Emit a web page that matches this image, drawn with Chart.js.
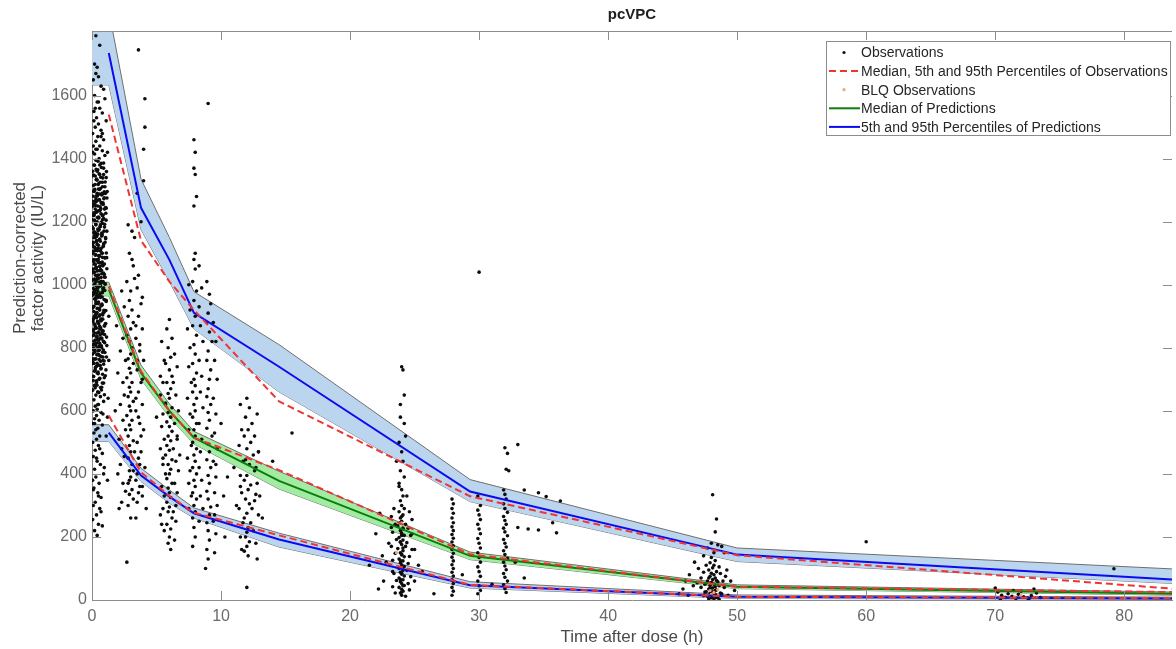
<!DOCTYPE html>
<html>
<head>
<meta charset="utf-8">
<title>pcVPC</title>
<script src="https://cdn.jsdelivr.net/npm/chart.js@4.4.1/dist/chart.umd.min.js"></script>
<style>
  html, body { margin: 0; padding: 0; background: #fff; overflow: hidden; }
  #wrap { width: 1176px; height: 649px; position: relative; }
</style>
</head>
<body>
<div id="wrap"><canvas id="vpc"></canvas></div>
<script>
// bin vertices (h): bands start at 0, percentile lines start at first bin
const bandTimes = [0, 1.3, 3.8, 6.0, 7.9, 14.5, 29.3, 50, 84];
const lineTimes = [1.3, 3.8, 6.0, 7.9, 14.5, 29.3, 50, 84];

// 95th percentile
const p95Upper = [1870, 1870, 1335, 1150, 978, 810, 382, 165, 98];
const p95Lower = [1634, 1634, 1175, 1010, 860, 660, 312, 122, 52];
const p95Pred = [1735, 1244, 1079, 911, 740, 344, 144, 64];
const p95Obs = [1540, 1140, 1010, 920, 630, 329, 142, 35];

// median
const p50Upper = [1008, 1008, 745, 622, 535, 408, 152, 48, 25];
const p50Lower = [965, 965, 700, 580, 495, 352, 128, 36, 15];
const p50Pred = [985, 720, 600, 515, 378, 140, 42, 20];
const p50Obs = [995, 725, 600, 515, 412, 145, 42, 25];

// 5th percentile
const p05Upper = [556, 556, 418, 349, 292, 212, 58, 16, 9];
const p05Lower = [503, 503, 376, 307, 260, 168, 38, 5, 2];
const p05Pred = [531, 395, 328, 275, 192, 47, 10, 5];
const p05Obs = [585, 405, 330, 277, 205, 48, 10, 6];

const xTickValues = [0, 10, 20, 30, 40, 50, 60, 70, 80];
const yTickValues = [0, 200, 400, 600, 800, 1000, 1200, 1400, 1600];
const xMax = 83.7;
const yMax = 1805;

// observations [time, prediction-corrected activity]
const obs0h = [
  [0.3,1790],[0.6,1760],[0.2,1700],[0.4,1690],[0.3,1670],[0.5,1660],[0.1,1650],[0.7,1630],[0.9,1620],[0.2,1600],
  [1.0,1590],[0.4,1580],[0.6,1560],[0.15,1550],[0.8,1545],[0.35,1530],[1.1,1520],[0.5,1510],[0.25,1500],[0.7,1490],
  [0.05,1480],[0.45,1470],[0.9,1460],[0.3,1455],[0.6,1440],[0.1,1440],[0.4,1430],[0.8,1425],[0.2,1415],[1.0,1410],
  [0.55,1400],[0.3,1395],[0.7,1385],[0.15,1380],[0.9,1370],[0.45,1365],[0.05,1360],[0.6,1350],[0.25,1345],[1.1,1340],
  [0.35,1335],[0.8,1325],[0.5,1320],[0.1,1315],[0.65,1305],[0.2,1300],[0.95,1295],[0.4,1290],[0.75,1285],[0.3,1275],
  [0.55,1270],[0.05,1265],[0.85,1260],[0.15,1255],[0.45,1250],[1.05,1245],[0.25,1240],[0.6,1235],[0.35,1230],[0.7,1225],
  [0.1,1220],[0.5,1215],[0.9,1210],[0.2,1205],[0.4,1200],[0.8,1195],[0.3,1190],[0.65,1185],[0.05,1180],[0.55,1175],
  [1.15,1170],[0.15,1165],[0.45,1160],[0.75,1155],[0.25,1150],[0.6,1145],[0.35,1140],[0.1,1135],[0.9,1130],[0.5,1125],
  [0.2,1120],[0.7,1115],[0.4,1110],[0.05,1105],[0.8,1100],[0.3,1095],[0.55,1090],[1.0,1085],[0.15,1080],[0.45,1075],
  [0.65,1070],[0.25,1065],[0.85,1060],[0.35,1055],[0.1,1050],[0.6,1045],[0.2,1040],[0.75,1035],[0.4,1030],[0.95,1025],
  [0.5,1020],[0.05,1015],[0.3,1010],[0.7,1005],[0.15,1000],[0.55,995],[0.9,990],[0.25,985],[0.45,980],[0.8,975],
  [0.1,970],[0.35,965],[0.65,960],[0.2,955],[1.1,950],[0.5,945],[0.3,940],[0.75,935],[0.05,930],[0.4,925],
  [0.6,920],[0.15,915],[0.85,910],[0.25,905],[0.55,900],[0.35,895],[0.1,890],[0.7,885],[0.45,880],[0.2,875],
  [0.95,870],[0.3,865],[0.6,860],[0.05,855],[0.5,850],[0.8,845],[0.15,840],[0.4,835],[0.65,830],[0.25,825],
  [0.9,820],[0.35,815],[0.1,810],[0.55,805],[0.75,800],[0.2,795],[0.45,790],[0.05,780],[0.6,775],[0.3,765],
  [0.85,760],[0.15,750],[0.5,745],[0.7,735],[0.25,730],[0.4,720],[0.1,710],[0.95,705],[0.55,700],[0.35,690],
  [0.2,680],[0.75,675],[0.05,665],[0.45,660],[0.3,650],[0.65,645],[0.15,635],[0.9,630],[0.5,620],[0.25,615],
  [0.4,605],[0.1,600],[0.7,595],[0.35,585],[1.2,580],[0.2,575],[0.55,570],[0.05,560],[0.8,555],[0.45,545],
  [0.3,540],[0.15,530],[0.6,520],[0.35,510],[0.05,500],[0.5,490],[0.25,475],[0.8,465],[0.1,455],[0.4,440],
  [0.65,430],[0.2,415],[0.9,400],[0.3,390],[0.05,380],[0.55,370],[1.2,380],[0.15,355],[0.45,340],[0.7,325],
  [0.25,310],[0.1,300],[0.6,290],[0.35,270],[0.05,255],[0.5,240],[0.8,235],[0.2,220],[0.4,205]
];
const obs0hb = [
  [0.12,1348],[0.68,1341],[0.33,1333],[1.02,1326],[0.47,1318],[0.81,1311],[0.21,1303],[1.18,1296],[0.56,1288],[0.09,1281],
  [0.92,1273],[0.38,1266],[0.74,1258],[0.27,1251],[1.1,1243],[0.6,1236],[0.15,1228],[0.86,1221],[0.42,1213],[0.03,1206],
  [0.71,1198],[0.3,1191],[0.97,1183],[0.52,1176],[0.18,1168],[0.79,1161],[0.36,1153],[1.06,1146],[0.64,1138],[0.07,1131],
  [0.89,1123],[0.44,1116],[0.24,1108],[0.76,1101],[0.58,1093],[1.14,1086],[0.13,1078],[0.49,1071],[0.83,1063],[0.31,1056],
  [0.66,1048],[0.04,1041],[0.95,1033],[0.4,1026],[0.2,1018],[0.72,1011],[1.0,1003],[0.54,996],[0.11,988],[0.85,981],
  [0.35,973],[0.62,966],[0.26,958],[1.08,951],[0.46,943],[0.78,936],[0.08,928],[0.57,921],[0.93,913],[0.32,906],
  [0.17,898],[0.7,891],[0.43,883],[1.04,876],[0.6,868],[0.22,861],[0.87,853],[0.37,846],[0.02,838],[0.75,831],
  [0.5,823],[0.98,816],[0.28,808],[0.65,801],[0.14,793],[0.82,786],[0.41,778],[1.12,771],[0.55,763],[0.06,756],
  [0.9,748],[0.34,741],[0.69,733],[0.19,726],[0.48,718],[1.03,711],[0.61,703],[0.1,696],[0.8,688],[0.39,681],
  [0.25,673],[0.73,666],[0.53,658],[0.96,651],
  [0.5,1580],[0.15,1520],[0.8,1480],[0.3,1430],[1.2,1420],[0.6,1380],[0.05,1420],[0.9,1350],[0.4,1360],[0.7,1470],
  [0.25,1560],[1.05,1290],[0.45,620],[0.85,590],[0.2,560],[1.1,520],[0.6,480],[0.35,450],[0.95,420],[0.1,350],
  [0.7,280],[0.5,330],[1.25,640],[1.3,760],[1.3,900]
];
const obs0hc = [
  [0.58,1302],[0.16,1296],[0.88,1289],[0.43,1282],[1.16,1275],[0.29,1268],[0.71,1261],[0.05,1254],[0.63,1247],[0.97,1240],
  [0.37,1233],[0.19,1226],[0.82,1219],[0.51,1212],[1.09,1205],[0.24,1198],[0.67,1191],[0.01,1184],[0.45,1177],[0.93,1170],
  [0.31,1163],[0.77,1156],[0.14,1149],[0.59,1142],[1.01,1135],[0.4,1128],[0.86,1121],[0.23,1114],[0.66,1107],[0.08,1100],
  [0.53,1093],[0.99,1086],[0.34,1079],[0.79,1072],[0.18,1065],[0.61,1058],[1.15,1051],[0.42,1044],[0.89,1037],[0.27,1030],
  [0.7,1023],[0.11,1016],[0.55,1009],[1.03,1002],[0.36,995],[0.84,988],[0.2,981],[0.64,974],[0.03,967],[0.48,960],
  [0.94,953],[0.3,946],[0.76,939],[0.15,932],[0.57,925],[1.07,918],[0.39,911],[0.83,904],[0.25,897],[0.69,890],
  [0.07,883],[0.52,876],[0.98,869],[0.33,862],[0.78,855],[0.17,848],[0.62,841],[1.13,834],[0.44,827],[0.9,820],
  [0.28,813],[0.73,806],[0.12,799],[0.56,792],[1.0,785],[0.38,778],[0.85,771],[0.22,764],[0.67,757],[0.04,750]
];
const obs0hd = [
  [0.46,1392],[0.9,1386],[0.19,1379],[0.73,1372],[0.32,1366],[1.12,1359],[0.55,1352],[0.06,1346],[0.84,1339],[0.4,1332],
  [0.63,1325],[0.23,1318],[1.0,1311],[0.5,1304],[0.13,1297],[0.78,1290],[0.36,1283],[0.95,1276],[0.59,1269],[0.27,1262],
  [0.87,1255],[0.02,1248],[0.69,1241],[0.44,1234],[1.07,1227],[0.16,1220],[0.53,1213],[0.81,1206],[0.29,1199],[0.98,1192],
  [0.62,1185],[0.1,1178],[0.47,1171],[0.75,1164],[0.21,1157],[1.05,1150],[0.57,1143],[0.34,1136],[0.91,1129],[0.05,1122],
  [0.67,1115],[0.42,1108],[1.11,1101],[0.26,1094],[0.8,1087],[0.49,1080],[0.14,1073],[0.96,1066],[0.6,1059],[0.3,1052],
  [0.74,1045],[0.09,1038],[0.52,1031],[1.02,1024],[0.37,1017],[0.86,1010],[0.22,1003],[0.65,996],[0.43,989],[0.99,982],
  [0.12,975],[0.58,968],[0.79,961],[0.28,954],[1.1,947],[0.48,940],[0.7,933],[0.04,926],[0.92,919],[0.35,912],
  [0.61,905],[0.18,898],[0.83,891],[0.45,884],[1.06,877],[0.24,870],[0.68,863],[0.08,856],[0.54,849],[0.97,842],
  [0.33,835],[0.76,828],[0.15,821],[0.6,814],[1.15,807],[0.41,800],[0.88,793],[0.2,786],[0.51,779],[0.71,772],
  [0.06,765],[0.94,758],[0.39,751],[0.64,744],[0.26,737],[1.08,730],[0.47,723],[0.82,716],[0.13,709],[0.57,702],
  [0.35,695],[0.9,688],[0.21,681],[0.66,674],[0.03,667],[0.44,660]
];
const obs3h = [
  [2.8,1190],[3.1,1170],[2.9,1100],[3.2,1060],[2.7,1010],[3.0,980],[2.9,950],[3.1,920],[2.8,900],[3.2,880],
  [3.0,860],[2.7,840],[2.9,820],[3.1,800],[3.0,780],[2.8,765],[3.2,750],[2.9,735],[3.0,720],[2.7,705],
  [3.1,690],[2.9,675],[3.0,660],[2.8,645],[3.2,630],[2.9,615],[3.0,600],[2.7,585],[3.1,570],[2.9,555],
  [3.0,540],[2.8,520],[3.2,505],[2.9,490],[3.0,470],[2.8,450],[3.1,430],[2.9,410],[3.0,390],[2.8,370],
  [3.1,350],[2.9,335],[3.2,320],[2.8,300],[2.7,120],[3.0,260],
  [3.6,1745],[4.1,1590],[4.1,1500],[4.0,1430],[4.0,1330],[3.5,1290],[3.8,1200],[3.3,1150],[3.6,1030],[3.9,960],
  [3.4,870],[3.7,810],[3.5,760],[3.9,700],[3.4,640],[3.6,580],[3.8,520],[3.3,470],[3.7,430],[3.5,400],
  [3.9,360],[3.6,340],[3.2,410],[2.9,380],[3.4,260],
  [2.3,980],[2.5,930],[1.9,870],[2.4,830],[2.2,790],[2.6,760],[2.0,720],[2.4,690],[2.5,650],[2.2,620],
  [1.8,600],[2.4,570],[2.6,540],[2.1,510],[2.3,480],[2.5,455],[2.2,430],[2.0,400],[2.4,370],[2.6,345],
  [2.3,310],[2.1,290],[3.5,990],[3.8,940],[3.6,900],[3.9,860],[3.4,830],[3.7,790],[4.0,760],[3.5,730],
  [3.8,690],[3.6,660],[3.9,620],[3.4,600],[3.7,560],[4.0,540],[3.5,500],[3.8,470],[3.6,450],[4.1,420],
  [3.4,380],[3.7,360],[3.9,330],[3.5,310],[4.2,290],[3.3,1020],[3.1,1080]
];
const obs6h = [
  [6.0,890],[5.8,860],[6.2,830],[5.9,800],[6.1,770],[5.7,750],[6.0,730],[6.2,710],[5.8,690],[6.1,670],
  [5.9,655],[6.0,640],[5.7,625],[6.2,610],[5.9,595],[6.1,580],[5.8,565],[6.0,550],[6.2,535],[5.9,520],
  [6.1,505],[5.8,490],[6.0,475],[5.7,460],[6.2,445],[5.9,430],[6.1,415],[6.0,400],[5.8,385],[6.2,370],
  [5.9,355],[6.0,340],[6.1,325],[5.8,310],[6.0,295],[5.9,280],[6.2,260],[5.8,240],[6.1,225],[6.0,200],
  [5.9,180],[6.1,160],[5.3,710],[5.0,580],[5.5,450],[6.5,300],[5.4,240],[6.6,520],
  [5.4,820],[5.6,760],[5.5,690],[5.3,650],[5.7,620],[5.5,590],[5.4,550],[5.6,510],[5.3,480],[5.5,430],
  [5.7,400],[5.4,360],[5.6,330],[5.5,290],[5.3,270],[5.6,220],[6.4,780],[6.6,740],[6.3,690],[6.5,650],
  [6.7,600],[6.4,560],[6.6,510],[6.3,480],[6.5,440],[6.7,410],[6.4,370],[6.6,340],[6.3,280],[6.5,250],
  [6.4,190],[6.8,460]
];
const obs8h = [
  [7.9,1460],[8.0,1420],[7.9,1370],[8.0,1350],[8.1,1280],[7.9,1250],[8.0,1100],[7.9,1080],[8.0,1050],[7.8,1010],
  [8.1,980],[7.9,950],[8.0,900],[7.8,870],[8.1,840],[7.9,810],[8.0,780],[7.8,750],[8.1,720],[7.9,700],
  [8.0,680],[7.8,660],[8.1,640],[7.9,620],[8.0,600],[7.8,580],[8.1,560],[7.9,540],[8.0,520],[7.8,500],
  [8.1,480],[7.9,460],[8.0,440],[7.8,420],[8.1,400],[7.9,380],[8.0,360],[7.8,340],[8.1,320],[7.9,300],
  [8.0,280],[7.8,260],[7.9,230],[8.0,200],[7.8,170],
  [7.5,1000],[7.6,920],[7.4,860],[7.6,800],[7.5,740],[7.7,690],[7.4,640],[7.6,590],[7.5,540],[7.7,490],
  [7.4,450],[7.6,410],[7.5,370],[7.7,330],[7.5,290],[8.3,1060],[8.5,990],[8.3,930],[8.4,870],[8.6,820],
  [8.3,760],[8.5,710],[8.4,660],[8.6,610],[8.3,560],[8.5,510],[8.4,470],[8.3,420],[8.5,380],[8.4,330],
  [8.6,290],[8.3,250]
];
const obs9h = [
  [9.0,1575],[8.9,1010],[9.1,970],[9.2,940],[9.0,910],[8.9,880],[9.1,850],[9.3,820],[9.0,790],[8.9,760],
  [9.2,730],[9.1,700],[9.0,670],[8.9,645],[9.2,620],[9.0,595],[9.1,570],[8.9,545],[9.3,520],[9.0,495],
  [9.1,470],[8.9,445],[9.2,420],[9.0,395],[9.1,370],[8.9,345],[9.0,320],[9.2,295],[9.1,270],[8.9,245],
  [9.0,220],[9.1,190],[8.9,160],[9.0,130],[8.8,100],[10.0,560],[9.6,430],[10.5,390],[10.2,330],[10.3,200],
  [9.5,270],[9.4,880],[9.6,820],[9.5,760],[9.7,700],[9.4,640],[9.6,590],[9.5,530],[9.7,480],[9.4,440],
  [9.6,390],[9.5,340],[9.7,300],[9.4,250],[9.6,210],[9.5,150]
];
const obs12h = [
  [12.0,640],[12.2,610],[11.9,580],[12.4,560],[12.1,540],[11.8,520],[12.3,500],[12.0,480],[12.5,460],[11.9,445],
  [12.2,430],[12.6,410],[12.0,395],[11.8,380],[12.3,365],[12.1,350],[12.7,335],[11.9,320],[12.2,305],[12.4,290],
  [12.0,275],[11.8,260],[12.3,245],[12.1,230],[12.0,215],[11.9,200],[12.2,185],[12.0,170],[11.8,155],[12.1,140],
  [12.0,40],[13.0,330],[13.2,260],[12.9,470],[11.5,360],[11.2,300],[15.5,530],[14.0,440],[11.0,420],
  [11.5,620],[12.8,590],[11.6,540],[12.6,520],[11.4,490],[12.9,470],[11.7,440],[12.7,420],[11.5,395],[12.8,370],
  [11.6,340],[12.6,315],[11.4,290],[12.9,270],[11.7,245],[12.5,220],[11.5,200],[12.7,180],[11.6,160],[12.8,130]
];
const obs24h = [
  [24.0,740],[24.1,730],[23.9,620],[24.2,560],[23.8,500],[24.0,470],[24.1,440],[23.9,410],[24.2,390],[23.8,370],
  [24.0,350],[24.1,330],[23.9,315],[24.0,300],[24.2,290],[23.8,280],[24.1,270],[23.9,260],[24.0,250],[24.3,240],
  [23.7,235],[24.1,228],[23.9,220],[24.0,212],[24.2,205],[23.8,198],[24.1,190],[23.9,183],[24.0,176],[24.3,170],
  [23.7,163],[24.1,156],[23.9,150],[24.0,143],[24.2,137],[23.8,130],[24.1,124],[23.9,118],[24.0,112],[24.2,106],
  [23.8,100],[24.1,94],[23.9,88],[24.0,82],[24.2,76],[23.8,70],[24.1,64],[23.9,58],[24.0,52],[24.2,46],
  [23.8,40],[24.0,34],[24.1,28],[23.9,22],[24.0,15],[22.2,35],[22.5,140],[22.8,120],[23.0,180],[23.3,90],
  [22.0,210],[25.0,160],[25.3,110],[25.6,90],[24.8,210],[25.0,60],[22.6,60],[23.2,230],[21.5,110],[26.5,20],
  [22.3,275],
  [23.4,290],[24.6,280],[23.2,265],[24.8,255],[23.5,240],[24.5,228],[23.3,215],[24.7,205],[23.6,192],[24.4,182],
  [23.2,170],[24.8,160],[23.5,148],[24.6,138],[23.3,126],[24.5,116],[23.7,104],[24.4,94],[23.4,84],[24.7,74],
  [23.6,62],[24.5,52],[23.3,42],[24.6,32],[23.5,22],[24.3,12],[23.8,360],[24.4,330],[23.6,440],[24.3,520],
  [23.9,580],[24.2,650],[24.0,265],[23.9,245],[24.1,225],[24.0,205],[23.9,185],[24.1,165],[24.0,145],[23.9,125],
  [24.1,105],[24.0,85],[23.9,65],[24.1,45],[24.0,25]
];
const obs28h = [
  [27.9,320],[28.0,305],[27.9,290],[28.0,275],[27.9,260],[28.0,245],[27.9,232],[28.0,220],[27.9,208],[28.0,196],
  [27.9,184],[28.0,172],[27.9,160],[28.0,148],[27.9,136],[28.0,124],[27.9,112],[28.0,100],[27.9,88],[28.0,76],
  [27.9,64],[28.0,52],[27.9,40],[28.0,28],[27.9,15],[28.7,80]
];
const obs30h = [
  [30.0,1040],[29.9,330],[30.1,300],[29.9,285],[30.0,270],[30.1,255],[29.9,240],[30.0,225],[30.1,210],[29.9,195],
  [30.0,180],[30.1,165],[29.9,150],[30.0,135],[30.1,120],[29.9,105],[30.0,90],[30.1,75],[29.9,60],[30.0,45],
  [30.1,30],[29.9,20],[31.0,50]
];
const obs32h = [
  [32.0,483],[32.2,465],[32.1,415],[32.3,410],[33.0,493],[31.9,349],[32.0,335],[32.1,320],[31.9,305],[32.0,290],
  [32.2,278],[31.9,265],[32.0,252],[32.1,240],[31.9,228],[32.0,216],[32.2,204],[31.9,192],[32.0,180],[32.1,168],
  [31.9,156],[32.0,144],[32.2,132],[31.9,120],[32.0,108],[32.1,96],[31.9,84],[32.0,72],[32.2,60],[31.9,48],
  [32.0,36],[32.1,24],[33.5,349],[34.6,340],[35.2,328],[36.3,314],[35.7,245],[36.0,213],[34.6,222],[33.0,230],
  [33.8,225],[32.8,120],[33.5,70]
];
const obs48h = [
  [48.1,334],[48.4,257],[48.3,216],[48.0,180],[48.5,175],[48.8,170],[47.7,165],[49.0,150],[47.4,140],[48.2,150],
  [48.0,135],[48.3,125],[47.9,118],[48.2,110],[48.1,102],[47.8,95],[48.4,90],[48.0,85],[48.2,80],[47.9,75],
  [48.3,70],[48.1,65],[47.7,60],[48.5,58],[48.0,55],[48.2,50],[47.9,46],[48.3,42],[48.1,38],[47.8,35],
  [48.4,32],[48.0,28],[48.2,25],[47.9,22],[48.3,18],[48.1,15],[47.7,12],[48.5,10],[48.0,7],[48.2,4],
  [46.3,80],[46.0,60],[46.6,45],[45.8,35],[47.0,100],[47.2,70],[49.2,95],[49.5,60],[49.0,40],[49.8,30],
  [46.7,120],[47.5,25],[48.8,20],[49.3,15],[46.2,15],[45.5,20],
  [47.6,110],[48.6,105],[47.4,88],[48.7,84],[47.8,70],[48.4,62],[47.5,50],[48.6,45],[47.9,38],[48.3,30],
  [47.6,26],[48.7,22],[47.4,14],[48.4,8],[47.8,4],[48.6,2],[48.9,60],[47.2,40],[49.1,75],[46.9,55]
];
const obs72h = [
  [70.0,38],[70.2,25],[70.5,15],[70.8,8],[71.0,20],[71.3,12],[71.6,5],[71.8,18],[72.0,28],[72.2,10],
  [72.5,6],[72.8,14],[73.0,35],[73.2,22],[73.5,8],[71.4,30],[72.6,3],[70.4,2],[60.0,185],[79.2,99]
];
const blqObs = [[23.6,150],[24.0,245],[47.9,30],[48.2,24],[48.5,33],[48.0,18],[71.5,10],[72.0,15]];

const pts = (xs, ys) => xs.map((x, i) => ({ x, y: ys[i] }));
const pairs = (rows) => rows.map(([x, y]) => ({ x, y }));

const observations = pairs([].concat(obs0h, obs0hb, obs0hc, obs0hd, obs3h, obs6h, obs8h, obs9h,
  obs12h, obs24h, obs28h, obs30h, obs32h, obs48h, obs72h));

const BLUE = '#0b0bef';
const GREEN = '#0a7d0a';
const RED = '#ef3434';
const EDGE = '#6e6e6e';
const BAND_BLUE = '#bcd5ee';
const BAND_GREEN = '#a2eba2';
const BLQ = '#f2a47c';
const FONT = "'Liberation Sans', Arial, sans-serif";

function band(upper, lower, color) {
  return [
    { data: pts(bandTimes, upper), fill: '+1', backgroundColor: color, borderColor: EDGE,
      borderWidth: 1, pointRadius: 0, order: 50 },
    { data: pts(bandTimes, lower), fill: false, borderColor: EDGE,
      borderWidth: 1, pointRadius: 0, order: 50 },
  ];
}

function line(values, color, dashed) {
  return {
    data: pts(lineTimes, values), fill: false, borderColor: color, borderWidth: 2,
    borderDash: dashed ? [7, 4] : [], pointRadius: 0, order: dashed ? 10 : 20,
  };
}

// inward ticks, box frame, title, y label and legend, MATLAB style
const frame = {
  id: 'frame',
  afterDraw(chart) {
    const { ctx, chartArea: a, scales: { x, y } } = chart;
    ctx.save();
    ctx.strokeStyle = '#8c8c8c';
    ctx.lineWidth = 1;
    ctx.beginPath();
    ctx.moveTo(a.left, a.top + 0.5);
    ctx.lineTo(a.right, a.top + 0.5);
    x.ticks.forEach(t => {
      const px = Math.round(x.getPixelForValue(t.value)) + 0.5;
      ctx.moveTo(px, a.bottom); ctx.lineTo(px, a.bottom - 9);
      ctx.moveTo(px, a.top); ctx.lineTo(px, a.top + 9);
    });
    y.ticks.forEach(t => {
      const py = Math.round(y.getPixelForValue(t.value)) + 0.5;
      ctx.moveTo(a.left, py); ctx.lineTo(a.left + 9, py);
      ctx.moveTo(a.right, py); ctx.lineTo(a.right - 9, py);
    });
    ctx.stroke();

    // title
    ctx.fillStyle = '#1e1e1e';
    ctx.font = 'bold 15px ' + FONT;
    ctx.textAlign = 'center';
    ctx.textBaseline = 'middle';
    ctx.fillText('pcVPC', (a.left + a.right) / 2, 15);

    // y axis label, two lines
    ctx.fillStyle = '#4a4a4a';
    ctx.font = '17px ' + FONT;
    [['Prediction-corrected', 20], ['factor activity (IU/L)', 38]].forEach(([txt, lx]) => {
      ctx.save();
      ctx.translate(lx, 258);
      ctx.rotate(-Math.PI / 2);
      ctx.fillText(txt, 0, 0);
      ctx.restore();
    });

    // legend box
    const bx = 826.5, by = 41.5, bw = 344, bh = 94;
    ctx.fillStyle = '#fff';
    ctx.fillRect(bx, by, bw, bh);
    ctx.strokeStyle = '#8c8c8c';
    ctx.strokeRect(bx, by, bw, bh);
    const entries = [
      { label: 'Observations', kind: 'dot', color: '#111' },
      { label: 'Median, 5th and 95th Percentiles of Observations', kind: 'dash', color: RED },
      { label: 'BLQ Observations', kind: 'dot', color: BLQ },
      { label: 'Median of Predictions', kind: 'line', color: GREEN },
      { label: '5th and 95th Percentiles of Predictions', kind: 'line', color: BLUE },
    ];
    ctx.font = '14px ' + FONT;
    ctx.textAlign = 'left';
    entries.forEach((e, i) => {
      const ry = 52.5 + i * 18.6;
      if (e.kind === 'dot') {
        ctx.fillStyle = e.color;
        ctx.beginPath();
        ctx.arc(844, ry, 1.6, 0, Math.PI * 2);
        ctx.fill();
      } else {
        ctx.strokeStyle = e.color;
        ctx.lineWidth = 2;
        ctx.setLineDash(e.kind === 'dash' ? [7, 4] : []);
        ctx.beginPath();
        ctx.moveTo(829, ry); ctx.lineTo(860, ry);
        ctx.stroke();
        ctx.setLineDash([]);
      }
      ctx.fillStyle = '#262626';
      ctx.fillText(e.label, 861, ry + 1);
    });
    ctx.restore();
  }
};

new Chart(document.getElementById('vpc'), {
  type: 'line',
  data: {
    datasets: [
      ...band(p95Upper, p95Lower, BAND_BLUE),
      ...band(p50Upper, p50Lower, BAND_GREEN),
      ...band(p05Upper, p05Lower, BAND_BLUE),
      { label: 'Observations', data: observations, showLine: false, pointRadius: 1.8,
        pointBackgroundColor: '#0d0d0d', pointBorderWidth: 0, order: 40 },
      { label: 'BLQ Observations', data: pairs(blqObs), showLine: false, pointRadius: 1.6,
        pointBackgroundColor: BLQ, pointBorderWidth: 0, order: 39 },
      line(p95Pred, BLUE, false),
      line(p50Pred, GREEN, false),
      line(p05Pred, BLUE, false),
      line(p95Obs, RED, true),
      line(p50Obs, RED, true),
      line(p05Obs, RED, true),
    ],
  },
  options: {
    responsive: true,
    maintainAspectRatio: false,
    animation: false,
    devicePixelRatio: 1,
    events: [],
    layout: { padding: { top: 31, right: 0, left: 0, bottom: 0 } },
    elements: { line: { tension: 0 } },
    scales: {
      x: {
        type: 'linear',
        min: 0,
        max: xMax,
        afterFit: (scale) => { scale.height = 49; },
        afterBuildTicks: (scale) => { scale.ticks = xTickValues.map(value => ({ value })); },
        grid: { display: false, drawTicks: false },
        border: { display: true, color: '#8c8c8c' },
        ticks: { padding: 7, color: '#6a6a6a', font: { family: FONT, size: 16 },
          callback: (v) => String(v) },
        title: { display: true, text: 'Time after dose (h)', color: '#4a4a4a',
          font: { family: FONT, size: 17 }, padding: { top: 0, bottom: 1 } },
      },
      y: {
        min: 0,
        max: yMax,
        afterFit: (scale) => { scale.width = 92; },
        afterBuildTicks: (scale) => { scale.ticks = yTickValues.map(value => ({ value })); },
        grid: { display: false, drawTicks: false },
        border: { display: true, color: '#8c8c8c' },
        ticks: { padding: 5, color: '#6a6a6a', font: { family: FONT, size: 16 },
          callback: (v) => String(v) },
      },
    },
    plugins: {
      legend: { display: false },
      tooltip: { enabled: false },
    },
  },
  plugins: [frame],
});
</script>
</body>
</html>
